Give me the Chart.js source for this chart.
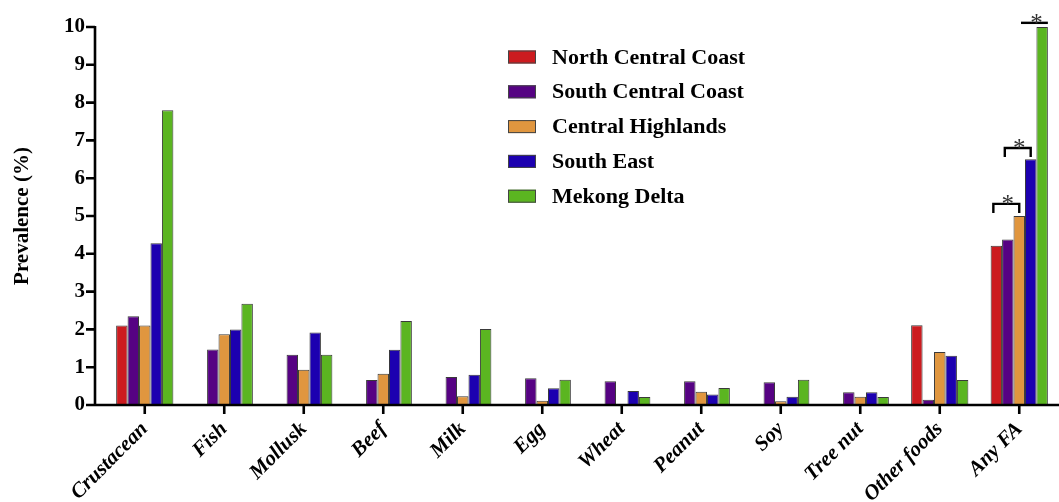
<!DOCTYPE html>
<html>
<head>
<meta charset="utf-8">
<script src="https://cdn.jsdelivr.net/npm/chart.js@4.4.0/dist/chart.umd.min.js"></script>
<style>
  html, body { margin: 0; padding: 0; background: #fff; }
  #wrap { width: 1059px; height: 502px; }
</style>
</head>
<body>
<div id="wrap"><canvas id="faChart"></canvas></div>
<script>
// categories and region values (prevalence %)
const foods = ["Crustacean", "Fish", "Mollusk", "Beef", "Milk", "Egg", "Wheat",
  "Peanut", "Soy", "Tree nut", "Other foods", "Any FA"];
const yTicks = [0, 1, 2, 3, 4, 5, 6, 7, 8, 9, 10];

const northCentralCoast = [2.1, null, null, null, null, null, null, null, null, null, 2.11, 4.21];
const southCentralCoast = [2.35, 1.47, 1.33, 0.66, 0.74, 0.71, 0.63, 0.63, 0.6, 0.34, 0.14, 4.38];
const centralHighlands = [2.1, 1.87, 0.93, 0.83, 0.23, 0.11, null, 0.35, 0.1, 0.22, 1.4, 5.0];
const southEast = [4.28, 2.0, 1.92, 1.46, 0.8, 0.44, 0.37, 0.28, 0.22, 0.34, 1.3, 6.5];
const mekongDelta = [7.8, 2.68, 1.33, 2.22, 2.01, 0.67, 0.21, 0.45, 0.67, 0.21, 0.66, 10.0];

const regionNames = ["North Central Coast", "South Central Coast", "Central Highlands",
  "South East", "Mekong Delta"];
const regionColors = ["#cc1b1f", "#560283", "#e0963f", "#1c00b0", "#5bb521"];

// significance marks on "Any FA": from series, to series, height (%)
const sigFrom = [0, 1, 3];
const sigTo = [2, 3, 4];
const sigHeight = [5.32, 6.8, 10.11];
const sigLegs = [true, true, false];

const seriesValues = [northCentralCoast, southCentralCoast, centralHighlands, southEast, mekongDelta];
const SERIF = "'Liberation Serif', 'DejaVu Serif', serif";

const axesAndMarks = {
  id: "axesAndMarks",
  afterDraw(chart) {
    const { ctx, chartArea, scales } = chart;
    const yScale = scales.y;
    const xScale = scales.x;
    const axisX = chartArea.left - 10;
    ctx.save();
    ctx.strokeStyle = "#000";
    ctx.lineWidth = 2.6;
    ctx.lineCap = "butt";

    // y axis line and ticks
    ctx.beginPath();
    ctx.moveTo(axisX, yScale.getPixelForValue(10) - 1);
    ctx.lineTo(axisX, chartArea.bottom + 1);
    yTicks.forEach((t) => {
      const py = yScale.getPixelForValue(t);
      ctx.moveTo(axisX - 9, py);
      ctx.lineTo(axisX, py);
    });
    // x axis line and ticks
    ctx.moveTo(axisX - 1, chartArea.bottom);
    ctx.lineTo(chartArea.right, chartArea.bottom);
    foods.forEach((f, i) => {
      const px = xScale.getPixelForValue(i);
      ctx.moveTo(px, chartArea.bottom);
      ctx.lineTo(px, chartArea.bottom + 9);
    });
    ctx.stroke();

    // significance brackets on the last group
    const last = foods.length - 1;
    ctx.lineWidth = 2.4;
    ctx.fillStyle = "#333";
    ctx.font = "25px " + SERIF;
    ctx.textAlign = "center";
    ctx.textBaseline = "alphabetic";
    sigFrom.forEach((from, k) => {
      const a = chart.getDatasetMeta(from).data[last];
      const b = chart.getDatasetMeta(sigTo[k]).data[last];
      let x1 = a.x;
      let x2 = b.x;
      if (!sigLegs[k]) {
        x1 -= a.width / 2;
        x2 += b.width / 2;
      }
      const py = yScale.getPixelForValue(sigHeight[k]);
      ctx.beginPath();
      if (sigLegs[k]) {
        ctx.moveTo(x1 - 3, py + 9);
        ctx.lineTo(x1 - 3, py);
        ctx.lineTo(x2, py);
        ctx.lineTo(x2, py + 9);
      } else {
        ctx.moveTo(x1 - 4, py);
        ctx.lineTo(x2, py);
      }
      ctx.stroke();
      ctx.fillText("*", (x1 + x2) / 2, py + 8);
    });

    // legend
    ctx.font = "bold 22px " + SERIF;
    ctx.textAlign = "left";
    ctx.textBaseline = "middle";
    ctx.lineWidth = 1;
    regionNames.forEach((name, i) => {
      const cy = 57 + i * 34.8;
      ctx.fillStyle = regionColors[i];
      ctx.fillRect(508, cy - 6.5, 28, 13);
      ctx.strokeStyle = "#444";
      ctx.strokeRect(508.5, cy - 6, 27, 12);
      ctx.fillStyle = "#000";
      ctx.fillText(name, 552, cy + 1);
    });
    ctx.restore();
  },
};

const ctx = document.getElementById("faChart").getContext("2d");
new Chart(ctx, {
  type: "bar",
  data: {
    labels: foods,
    datasets: regionNames.map((name, i) => ({
      label: name,
      data: seriesValues[i],
      backgroundColor: regionColors[i],
      borderColor: "#3a3a3a",
      borderWidth: 1,
      barPercentage: 1.0,
      categoryPercentage: 0.72,
    })),
  },
  options: {
    responsive: true,
    maintainAspectRatio: false,
    animation: false,
    devicePixelRatio: 1,
    layout: { padding: { top: 27, right: 0, bottom: 0, left: 0 } },
    plugins: {
      legend: { display: false },
      tooltip: { enabled: false },
    },
    scales: {
      x: {
        grid: { display: false },
        border: { display: false },
        ticks: {
          color: "#000",
          font: { family: SERIF, size: 21, weight: "bold", style: "italic" },
          maxRotation: 45,
          minRotation: 45,
          padding: 4,
        },
        afterFit(scale) {
          scale.height = 97;
        },
      },
      y: {
        min: 0,
        max: 10,
        grid: { display: false },
        border: { display: false },
        ticks: {
          stepSize: 1,
          color: "#000",
          padding: 12,
          font: { family: SERIF, size: 21, weight: "bold" },
        },
        title: {
          display: true,
          text: "Prevalence (%)",
          color: "#000",
          font: { family: SERIF, size: 21, weight: "bold" },
          padding: { top: 10, bottom: 30 },
        },
        afterFit(scale) {
          scale.width = 105;
        },
      },
    },
  },
  plugins: [axesAndMarks],
});
</script>
</body>
</html>
